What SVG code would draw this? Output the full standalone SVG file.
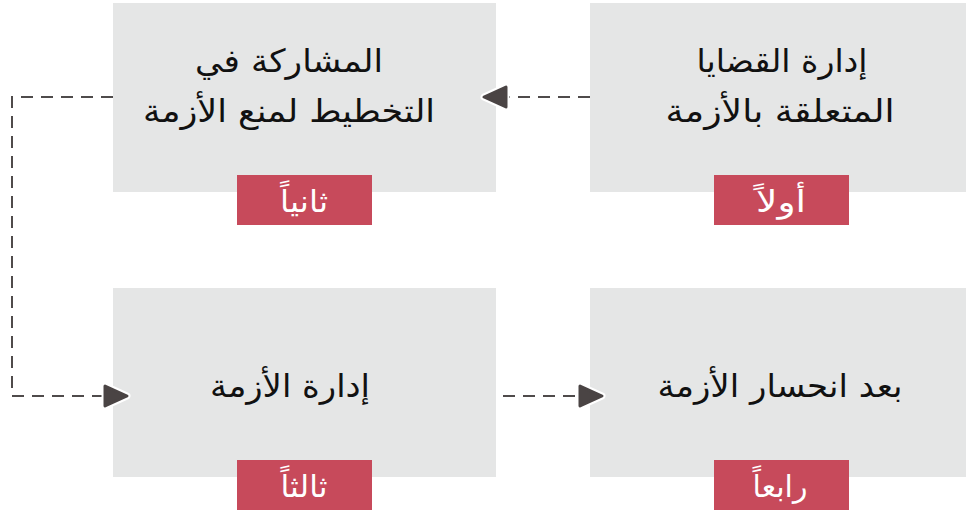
<svg xmlns="http://www.w3.org/2000/svg" width="966" height="516" viewBox="0 0 966 516">
<style>
.box{fill:#e5e6e6}
.badge{fill:#c74a5b}
.t{font-family:"DejaVu Sans","Noto Sans",sans-serif;font-size:32px;fill:#111;text-anchor:middle}
.b{font-family:"DejaVu Sans","Noto Sans",sans-serif;font-size:30px;fill:#fff;text-anchor:middle}
.c{fill:none;stroke:#4f4b4b;stroke-width:2;stroke-dasharray:12 8}
</style>
<defs>
<marker id="ah" markerUnits="userSpaceOnUse" markerWidth="40" markerHeight="40" viewBox="-5 -5 40 40" refX="0" refY="12" orient="auto" overflow="visible">
<path d="M2,2 L24,12 L2,22 Z" fill="#fff" stroke="#fff" stroke-width="7" stroke-linejoin="round"/>
<path d="M2,2 L24,12 L2,22 Z" fill="#4a4444" stroke="#4a4444" stroke-width="3" stroke-linejoin="round"/>
</marker>
</defs>
<g id="n2">
<rect class="box" x="113" y="3" width="383" height="189"/>
<text class="t" x="289" y="72" textLength="188" lengthAdjust="spacingAndGlyphs">المشاركة في</text>
<text class="t" x="289" y="122" textLength="292" lengthAdjust="spacingAndGlyphs">التخطيط لمنع الأزمة</text>
<rect class="badge" x="237" y="175" width="135" height="50"/>
<text class="b" x="304" y="212" textLength="48" lengthAdjust="spacingAndGlyphs">ثانياً</text>
</g>
<g id="n1">
<rect class="box" x="590" y="3" width="376" height="189"/>
<text class="t" x="782" y="72" textLength="171" lengthAdjust="spacingAndGlyphs">إدارة القضايا</text>
<text class="t" x="780" y="122" textLength="229" lengthAdjust="spacingAndGlyphs">المتعلقة بالأزمة</text>
<rect class="badge" x="714" y="175" width="135" height="50"/>
<text class="b" x="781" y="212" textLength="50" lengthAdjust="spacingAndGlyphs">أولاً</text>
</g>
<g id="n3">
<rect class="box" x="113" y="288" width="383" height="189"/>
<text class="t" x="290" y="397" textLength="160" lengthAdjust="spacingAndGlyphs">إدارة الأزمة</text>
<rect class="badge" x="237" y="460" width="135" height="50"/>
<text class="b" x="304" y="497" textLength="47" lengthAdjust="spacingAndGlyphs">ثالثاً</text>
</g>
<g id="n4">
<rect class="box" x="590" y="288" width="376" height="189"/>
<text class="t" x="780" y="397" textLength="245" lengthAdjust="spacingAndGlyphs">بعد انحسار الأزمة</text>
<rect class="badge" x="714" y="460" width="135" height="50"/>
<text class="b" x="780" y="497" textLength="55" lengthAdjust="spacingAndGlyphs">رابعاً</text>
</g>
<g id="connectors">
<path class="c" d="M590,97 H508" marker-end="url(#ah)"/>
<path class="c" d="M113,97 H12 V396 H103" marker-end="url(#ah)"/>
<path class="c" d="M503,396 H578" marker-end="url(#ah)"/>
</g>
</svg>
